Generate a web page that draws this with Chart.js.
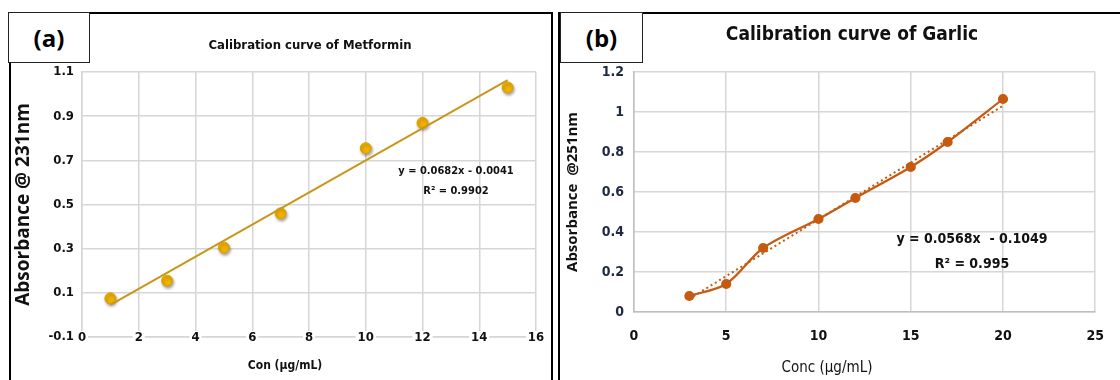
<!DOCTYPE html>
<html>
<head>
<meta charset="utf-8">
<script src="https://cdn.jsdelivr.net/npm/chart.js@4.4.1/dist/chart.umd.min.js"></script>
<style>
  body { margin: 0; width: 1120px; height: 380px; background: #fff; overflow: hidden; position: relative;
         font-family: "Liberation Sans Narrow", "DejaVu Sans Condensed", "Open Sans", sans-serif; }
  .panel { position: absolute; border: 2px solid #000; border-bottom: none; box-sizing: border-box; }
  .tag { position: absolute; border: 1.5px solid #222; box-sizing: border-box; background: #fff;
         font-family: "Open Sans", "DejaVu Sans", sans-serif; font-weight: bold; font-size: 24px;
         display: flex; align-items: center; justify-content: center; z-index: 3; }
  canvas { position: absolute; }
  .txt { position: absolute; transform: translate(-50%, -50%); white-space: nowrap; color: #111; z-index: 2; }
</style>
</head>
<body>
<div class="panel" style="left:9px;top:12px;width:544px;height:380px;"></div>
<div class="panel" style="left:558px;top:12px;width:600px;height:380px;"></div>
<div class="tag" style="left:8px;top:12px;width:82px;height:51px;">(a)</div>
<div class="tag" style="left:560px;top:12px;width:83px;height:51px;">(b)</div>

<canvas id="chartA" width="540" height="366" style="left:10px;top:14px;"></canvas>
<canvas id="chartB" width="560" height="366" style="left:560px;top:14px;"></canvas>

<div class="txt" style="left:310px;top:44px;font-size:13px;font-weight:bold;">Calibration curve of Metformin</div>
<div class="txt" style="left:285px;top:365px;font-size:12px;font-weight:bold;">Con (µg/mL)</div>
<div class="txt" style="left:456px;top:170px;font-size:11px;font-weight:bold;">y = 0.0682x - 0.0041</div>
<div class="txt" style="left:456px;top:190px;font-size:11px;font-weight:bold;">R² = 0.9902</div>

<div class="txt" style="left:852px;top:33px;font-size:19px;font-weight:bold;">Calibration curve of Garlic</div>
<div class="txt" style="left:827px;top:367px;font-size:15px;">Conc (µg/mL)</div>
<div class="txt" style="left:972px;top:238px;font-size:14px;font-weight:bold;">y = 0.0568x&nbsp; - 0.1049</div>
<div class="txt" style="left:972px;top:263px;font-size:14px;font-weight:bold;">R² = 0.995</div>

<script>
// (a) Metformin
const concA = [1, 3, 5, 7, 10, 12, 15];
const absA = [0.075, 0.155, 0.305, 0.46, 0.755, 0.87, 1.03];
const trendXA = [1, 15];
const trendYA = [0.045, 1.063];
const xTicksA = [0, 2, 4, 6, 8, 10, 12, 14, 16];
const yTicksA = [-0.1, 0.1, 0.3, 0.5, 0.7, 0.9, 1.1];

// (b) Garlic
const concB = [3, 5, 7, 10, 12, 15, 17, 20];
const absB = [0.08, 0.14, 0.32, 0.465, 0.57, 0.725, 0.85, 1.065];
const trendXB = [3, 20];
const trendYB = [0.066, 1.031];
const xTicksB = [0, 5, 10, 15, 20, 25];
const yTicksB = [0, 0.2, 0.4, 0.6, 0.8, 1, 1.2];

const narrow = '"Liberation Sans Narrow", "DejaVu Sans Condensed", "Open Sans", sans-serif';
const gridGrey = '#d6d6d6';

function pts(xs, ys) {
    return xs.map((x, i) => ({x: x, y: ys[i]}));
}

// soft shadow under the yellow markers
const shadowPlugin = {
    id: 'markerShadow',
    beforeDatasetDraw(chart, args) {
        if (!args.meta._dataset.shadow) return;
        const ctx = chart.ctx;
        ctx.save();
        ctx.shadowColor = 'rgba(0,0,0,0.35)';
        ctx.shadowBlur = 3;
        ctx.shadowOffsetX = 1;
        ctx.shadowOffsetY = 2;
    },
    afterDatasetDraw(chart, args) {
        if (!args.meta._dataset.shadow) return;
        chart.ctx.restore();
    }
};

// x labels of (a) sit on the bottom gridline, with a white patch behind each one
const labelsOnLine = {
    id: 'labelsOnLine',
    afterDraw(chart) {
        const ctx = chart.ctx;
        const sx = chart.scales.x;
        const y = chart.chartArea.bottom;
        ctx.save();
        ctx.font = 'bold 13px ' + narrow;
        ctx.textAlign = 'center';
        ctx.textBaseline = 'middle';
        xTicksA.forEach(v => {
            const x = sx.getPixelForValue(v);
            const t = String(v);
            const w = ctx.measureText(t).width;
            ctx.fillStyle = '#fff';
            ctx.fillRect(x - w / 2 - 2, y - 6, w + 4, 12);
            ctx.fillStyle = '#111';
            ctx.fillText(t, x, y + 1);
        });
        ctx.restore();
    }
};

new Chart(document.getElementById('chartA'), {
    type: 'scatter',
    data: {
        datasets: [{
            data: pts(concA, absA),
            shadow: true,
            pointRadius: 5.5,
            pointBackgroundColor: '#f0b000',
            pointBorderColor: '#d99f00',
            pointBorderWidth: 1,
            order: 1
        }, {
            type: 'line',
            data: pts(trendXA, trendYA),
            borderColor: '#c9961a',
            borderWidth: 2,
            pointRadius: 0,
            order: 0
        }]
    },
    plugins: [shadowPlugin, labelsOnLine],
    options: {
        responsive: false,
        animation: false,
        layout: {padding: {top: 58, right: 14, left: 0, bottom: 0}},
        plugins: {legend: {display: false}, tooltip: {enabled: false}},
        scales: {
            x: {
                type: 'linear', min: 0, max: 16,
                afterBuildTicks: s => { s.ticks = xTicksA.map(v => ({value: v})); },
                afterFit: s => { s.height = 43; },
                grid: {color: gridGrey, lineWidth: 1.5, drawTicks: false},
                border: {color: gridGrey, width: 1.5},
                ticks: {display: false}
            },
            y: {
                min: -0.1, max: 1.1,
                afterBuildTicks: s => { s.ticks = yTicksA.map(v => ({value: v})); },
                afterFit: s => { s.width = 72; },
                grid: {color: gridGrey, lineWidth: 1.5, drawTicks: false},
                border: {color: gridGrey, width: 1.5},
                ticks: {padding: 8, color: '#111', font: {family: narrow, size: 13, weight: 'bold'},
                        callback: v => String(Math.round(v * 10) / 10)},
                title: {display: true, text: 'Absorbance @ 231nm', color: '#111', padding: {top: 2, bottom: 2},
                        font: {family: '"Open Sans", "DejaVu Sans", sans-serif', size: 19, weight: 'bold'}}
            }
        }
    }
});

new Chart(document.getElementById('chartB'), {
    type: 'line',
    data: {
        datasets: [{
            data: pts(concB, absB),
            borderColor: '#c55a11',
            borderWidth: 2.2,
            tension: 0.3,
            pointRadius: 4,
            pointBackgroundColor: '#c55a11',
            pointBorderColor: '#c55a11',
            order: 1
        }, {
            data: pts(trendXB, trendYB),
            borderColor: '#c55a11',
            borderWidth: 2,
            borderDash: [2, 3],
            pointRadius: 0,
            order: 0
        }]
    },
    options: {
        responsive: false,
        animation: false,
        layout: {padding: {top: 58, right: 13, left: 0, bottom: 0}},
        plugins: {legend: {display: false}, tooltip: {enabled: false}},
        scales: {
            x: {
                type: 'linear', min: 0, max: 25,
                afterBuildTicks: s => { s.ticks = xTicksB.map(v => ({value: v})); },
                afterFit: s => { s.height = 68; },
                grid: {color: gridGrey, lineWidth: 1.5, drawTicks: false},
                border: {color: '#bfbfbf', width: 1.5},
                ticks: {padding: 16, color: '#111', font: {family: narrow, size: 14, weight: 'bold'}}
            },
            y: {
                type: 'linear', min: 0, max: 1.2,
                afterBuildTicks: s => { s.ticks = yTicksB.map(v => ({value: v})); },
                afterFit: s => { s.width = 74; },
                grid: {color: gridGrey, lineWidth: 1.5, drawTicks: false},
                border: {color: '#bfbfbf', width: 1.5},
                ticks: {padding: 10, color: '#1f2a40', font: {family: narrow, size: 14, weight: 'bold'},
                        callback: v => String(Math.round(v * 10) / 10)},
                title: {display: true, text: 'Absorbance  @251nm', color: '#111', padding: {top: 4, bottom: 2},
                        font: {family: '"Open Sans", "DejaVu Sans", sans-serif', size: 15, weight: 'bold'}}
            }
        }
    }
});
</script>
</body>
</html>
